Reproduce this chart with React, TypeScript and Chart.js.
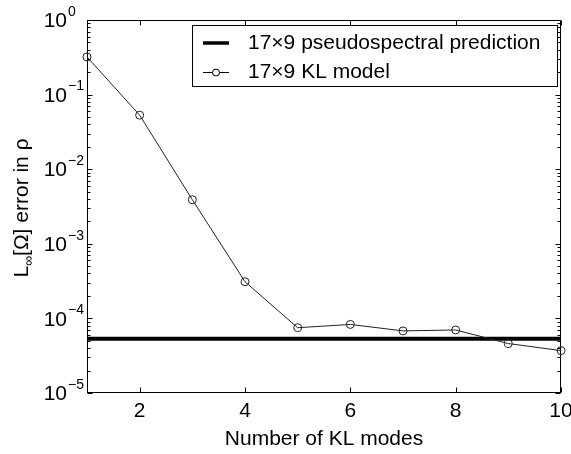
import React, { useEffect, useRef } from 'react';
import { Chart, registerables } from 'chart.js';

Chart.register(...registerables);

const modes = [1, 2, 3, 4, 5, 6, 7, 8, 9, 10];
const klError = [0.32, 0.053, 0.0039, 3.1e-4, 7.5e-5, 8.3e-5, 6.8e-5, 7.0e-5, 4.6e-5, 3.7e-5];
const pseudoX = [1, 10];
const pseudoError = 5.35e-5;
const xTicks = [2, 4, 6, 8, 10];
const yDecades = [-5, -4, -3, -2, -1, 0];
const legendLabels = ['17×9 pseudospectral prediction', '17×9 KL model'];
const xTitle = 'Number of KL modes';

const FONT = '"Liberation Sans", Arial, Helvetica, sans-serif';
const FS = 21;

const axesPlugin = {
  id: 'matlabAxes',
  beforeDatasetsDraw(chart: any) {
    const { ctx, chartArea: a, scales } = chart;
    const xs = scales.x;
    const ys = scales.y;
    const L = Math.round(a.left) + 0.5;
    const R = Math.round(a.right) - 0.5;
    const T = Math.round(a.top) + 0.5;
    const B = Math.round(a.bottom) - 0.5;
    ctx.save();
    ctx.strokeStyle = '#000';
    ctx.lineWidth = 1;
    ctx.strokeRect(L, T, R - L, B - T);
    ctx.beginPath();
    for (const v of xTicks) {
      const px = Math.round(xs.getPixelForValue(v)) + 0.5;
      ctx.moveTo(px, B);
      ctx.lineTo(px, B - 5);
      ctx.moveTo(px, T);
      ctx.lineTo(px, T + 5);
    }
    for (const d of yDecades) {
      const py = Math.round(ys.getPixelForValue(Math.pow(10, d))) + 0.5;
      ctx.moveTo(L, py);
      ctx.lineTo(L + 5, py);
      ctx.moveTo(R, py);
      ctx.lineTo(R - 5, py);
      if (d < 0) {
        for (let m = 2; m <= 9; m++) {
          const pm = Math.round(ys.getPixelForValue(m * Math.pow(10, d))) + 0.5;
          ctx.moveTo(L, pm);
          ctx.lineTo(L + 3, pm);
          ctx.moveTo(R, pm);
          ctx.lineTo(R - 3, pm);
        }
      }
    }
    ctx.stroke();

    // x tick labels
    ctx.fillStyle = '#000';
    ctx.font = `${FS}px ${FONT}`;
    ctx.textAlign = 'center';
    ctx.textBaseline = 'middle';
    for (const v of xTicks) {
      ctx.fillText(String(v), xs.getPixelForValue(v), a.bottom + 18);
    }
    // y tick labels
    for (const d of yDecades) {
      const py = ys.getPixelForValue(Math.pow(10, d));
      ctx.font = `${FS}px ${FONT}`;
      ctx.textAlign = 'right';
      ctx.textBaseline = 'middle';
      ctx.fillText('10', a.left - 20, py + 1.5);
      ctx.font = `${Math.round(FS * 0.68)}px ${FONT}`;
      ctx.textAlign = 'left';
      ctx.fillText(d < 0 ? '−' + String(-d) : String(d), a.left - 19, py - 8);
    }
    // x title
    ctx.font = `${FS}px ${FONT}`;
    ctx.textAlign = 'center';
    ctx.textBaseline = 'middle';
    ctx.fillText(xTitle, (a.left + a.right) / 2, 439);

    // y title (rotated) with subscript
    const big = `${FS}px ${FONT}`;
    const small = `${Math.round(FS * 0.68)}px ${FONT}`;
    const parts: [string, string, number][] = [
      ['L', big, 0],
      ['∞', small, 5],
      ['[Ω] error in ρ', big, 0],
    ];
    let total = 0;
    for (const [t, f] of parts) {
      ctx.font = f;
      total += ctx.measureText(t).width;
    }
    ctx.save();
    ctx.translate(28, 208);
    ctx.rotate(-Math.PI / 2);
    ctx.textAlign = 'left';
    ctx.textBaseline = 'alphabetic';
    let cx = -total / 2;
    for (const [t, f, off] of parts) {
      ctx.font = f;
      ctx.fillText(t, cx, off);
      cx += ctx.measureText(t).width;
    }
    ctx.restore();
    ctx.restore();
  },
  afterDatasetsDraw(chart: any) {
    const { ctx } = chart;
    ctx.save();
    const lx = 192.5, ly = 25.5, lw = 365, lh = 61;
    ctx.fillStyle = '#fff';
    ctx.fillRect(lx, ly, lw, lh);
    ctx.strokeStyle = '#000';
    ctx.lineWidth = 1;
    ctx.strokeRect(lx, ly, lw, lh);
    // row 1
    ctx.lineWidth = 3.5;
    ctx.beginPath();
    ctx.moveTo(203, 43);
    ctx.lineTo(229, 43);
    ctx.stroke();
    // row 2
    ctx.lineWidth = 1;
    ctx.beginPath();
    ctx.moveTo(203, 72.5);
    ctx.lineTo(229, 72.5);
    ctx.stroke();
    ctx.fillStyle = '#fff';
    ctx.beginPath();
    ctx.arc(216, 72.5, 3.5, 0, Math.PI * 2);
    ctx.fill();
    ctx.stroke();
    ctx.fillStyle = '#000';
    ctx.font = `${FS}px ${FONT}`;
    ctx.textAlign = 'left';
    ctx.textBaseline = 'middle';
    ctx.fillText(legendLabels[0], 248, 43);
    ctx.fillText(legendLabels[1], 248, 72);
    ctx.restore();
  },
};

export default function App() {
  const ref = useRef<HTMLCanvasElement | null>(null);
  useEffect(() => {
    document.body.style.margin = '0';
    const canvas = ref.current;
    if (!canvas) return;
    const chart = new Chart(canvas, {
      type: 'line',
      data: {
        datasets: [
          {
            label: legendLabels[0],
            data: pseudoX.map((x) => ({ x, y: pseudoError })),
            borderColor: '#000',
            borderWidth: 4,
            pointRadius: 0,
            order: 2,
          },
          {
            label: legendLabels[1],
            data: modes.map((x, i) => ({ x, y: klError[i] })),
            borderColor: '#222',
            borderWidth: 1,
            pointRadius: 4,
            pointBorderWidth: 1,
            pointBorderColor: '#222',
            pointBackgroundColor: 'rgba(0,0,0,0)',
            clip: false as any,
            order: 1,
          },
        ],
      },
      options: {
        responsive: false,
        animation: false,
        devicePixelRatio: 1,
        layout: { padding: { left: 87, top: 20, right: 10, bottom: 61 } },
        plugins: { legend: { display: false }, tooltip: { enabled: false } },
        scales: {
          x: { type: 'linear', min: 1, max: 10, display: false },
          y: { type: 'logarithmic', min: 1e-5, max: 1, display: false },
        },
      },
      plugins: [axesPlugin],
    });
    return () => chart.destroy();
  }, []);
  return <canvas ref={ref} width={571} height={454} style={{ display: 'block' }} />;
}
